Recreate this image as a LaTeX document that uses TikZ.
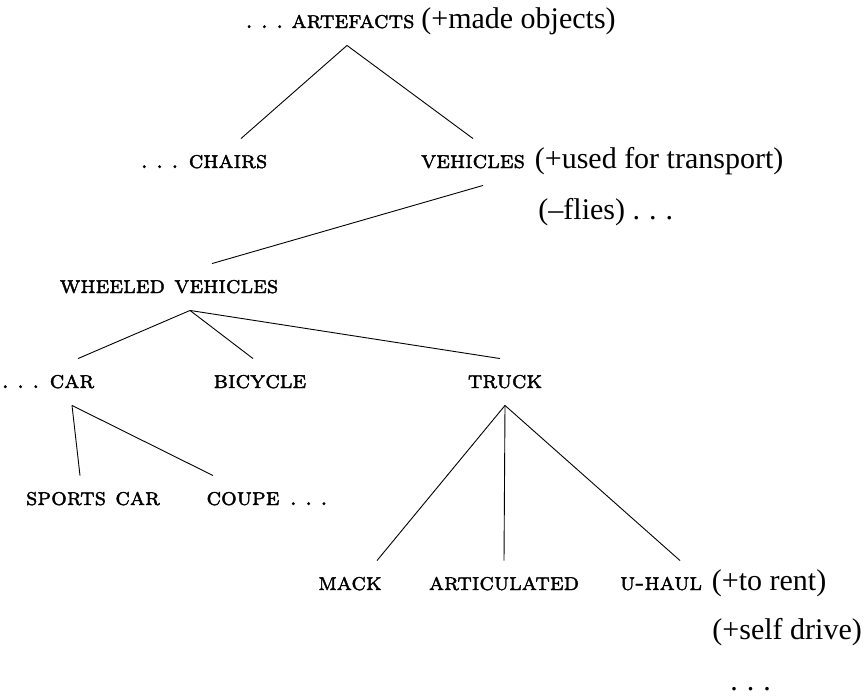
\documentclass[tikz,border=0pt]{standalone}
\usepackage{fontspec}
\setmainfont{Liberation Serif}
\newfontfamily\capfont[FakeBold=1.5]{lmromancaps10-regular.otf}
\newcommand{\rsize}{\fontsize{30}{36}\selectfont}
\newcommand{\csize}{\capfont\fontsize{24.7}{30}\selectfont}
\newcommand{\gdots}{.\kern.3em.\kern.3em.}

\begin{document}
\begin{tikzpicture}[x=1pt,y=-1pt,line width=0.9pt,
    concept/.style={font=\csize,inner xsep=0pt,inner ysep=17pt,text height=12pt,text depth=0pt,anchor=base},
    feat/.style={font=\rsize,inner sep=0pt,anchor=base west},
    lead/.style={font=\csize,inner sep=0pt,anchor=base east}]
    \useasboundingbox (0,0) rectangle (864,696);

    % concepts
    \node[concept] (artefacts) at (353,28) {artefacts};
    \node[concept] (chairs) at (228,168) {chairs};
    \node[concept] (vehicles) at (473,168) {vehicles};
    \node[concept] (wheeled) at (169,293) {wheeled vehicles};
    \node[concept] (car) at (72,388) {car};
    \node[concept] (bicycle) at (260,388) {bicycle};
    \node[concept] (truck) at (505,388) {truck};
    \node[concept] (sports) at (93,505) {sports car};
    \node[concept] (coupe) at (243,505) {coupe};
    \node[concept] (mack) at (350,590) {mack};
    \node[concept] (articulated) at (504,590) {articulated};
    \node[concept] (uhaul) at (661,590) {u-haul};

    % features and dots
    \node[lead] (artdots) at ([xshift=-7pt]artefacts.base west) {\gdots};
    \node[feat] (made) at ([xshift=6pt]artefacts.base east) {(+made objects)};
    \node[lead] (chairdots) at ([xshift=-9pt]chairs.base west) {\gdots};
    \node[feat] (transport) at ([xshift=9pt]vehicles.base east) {(+used for transport)};
    \node[feat] (flies) at (538,219) {(\textendash flies) \gdots};
    \node[lead] (cardots) at ([xshift=-9pt]car.base west) {\gdots};
    \node[feat] (coupedots) at ([xshift=9pt]coupe.base east) {\csize\gdots};
    \node[feat] (rent) at ([xshift=9pt]uhaul.base east) {(+to rent)};
    \node[feat] (selfdrive) at (712,639) {(+self drive)};
    \node[feat] (moredots) at (730,690) {\gdots};

    \draw ([xshift=-6pt]artefacts.south) -- ([xshift=13pt]chairs.north);
    \draw ([xshift=-6pt]artefacts.south) -- (vehicles.north);
    \draw ([xshift=10pt]vehicles.south) -- ([xshift=43pt]wheeled.north);
    \draw ([xshift=21pt]wheeled.south) -- ([xshift=6pt]car.north);
    \draw ([xshift=21pt]wheeled.south) -- ([xshift=-7pt]bicycle.north);
    \draw ([xshift=21pt]wheeled.south) -- ([xshift=-5pt]truck.north);
    \draw (car.south) -- ([xshift=-13pt]sports.north);
    \draw (car.south) -- ([xshift=-30pt]coupe.north);
    \draw (truck.south) -- ([xshift=27pt]mack.north);
    \draw (truck.south) -- (articulated.north);
    \draw (truck.south) -- ([xshift=19pt]uhaul.north);
\end{tikzpicture}
\end{document}
